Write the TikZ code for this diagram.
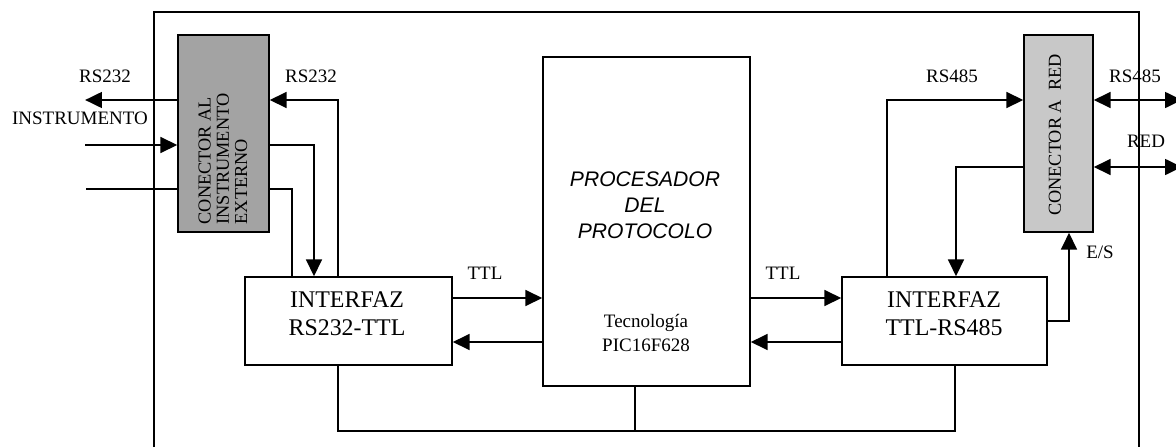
\documentclass[tikz,border=0pt]{standalone}
\usepackage{fontspec}
\setmainfont{Liberation Serif}
\newfontfamily\procfont{Liberation Sans}
\usetikzlibrary{arrows.meta}
\definecolor{grisOscuro}{RGB}{163,163,163}
\definecolor{grisClaro}{RGB}{200,200,200}

\begin{document}
\begin{tikzpicture}[x=0.025cm, y=-0.025cm,
  marco/.style={line width=1.4pt},
  caja/.style={draw, line width=0.9pt, inner sep=0pt},
  linea/.style={line width=0.9pt},
  flecha/.style={line width=2.1pt, -{Triangle[length=12pt,width=11pt]}},
  flechas/.style={line width=2.1pt, {Triangle[length=12pt,width=11pt]}-{Triangle[length=12pt,width=11pt]}},
  etiqueta/.style={font=\fontsize{13.5}{16.5}\selectfont, inner sep=0pt},
  rotulo/.style={font=\fontsize{13}{13}\selectfont, rotate=90, align=left, inner sep=0pt}]
\useasboundingbox (0,0) rectangle (1176,447);

% Marco exterior (abierto por debajo)
\draw[marco] (154,447) -- (154,12) -- (1139,12) -- (1139,447);

% Conector al instrumento externo (gris oscuro)
\node[caja, fill=grisOscuro, minimum width=2.275cm, minimum height=4.925cm] (conIn) at (223.5,133.5) {};
\node[rotulo] (txtIn) at (223,159) {CONECTOR AL\\INSTRUMENTO\\EXTERNO};

% Conector a red (gris claro)
\node[caja, fill=grisClaro, minimum width=1.725cm, minimum height=4.925cm] (conRed) at (1058.5,133.5) {};
\node[rotulo] (txtRed) at (1055,135) {CONECTOR A\ \ RED};

% Interfaces
\node[caja, minimum width=5.175cm, minimum height=2.2cm] (ifA) at (348.5,321) {};
\node[font=\fontsize{17}{20}\selectfont, align=center, inner sep=0pt] (txtA) at (347,314) {INTERFAZ\\RS232-TTL};
\node[caja, minimum width=5.125cm, minimum height=2.2cm] (ifB) at (944.5,321) {};
\node[font=\fontsize{17}{20}\selectfont, align=center, inner sep=0pt] (txtB) at (944,314) {INTERFAZ\\TTL-RS485};

% Procesador del protocolo
\node[caja, minimum width=5.175cm, minimum height=8.225cm] (proc) at (646.5,221.5) {};
\node[font=\procfont\itshape\fontsize{15}{18.5}\selectfont, align=center, inner sep=0pt] (txtProc) at (645,205) {PROCESADOR\\DEL\\PROTOCOLO};
\node[etiqueta, align=center, font=\fontsize{13.5}{16.5}\selectfont] (txtTec) at (646,333) {Tecnología\\PIC16F628};

% Etiquetas de las senales
\node[etiqueta] (lRS232a) at (105,76) {RS232};
\node[etiqueta] (lInstr) at (80,118) {INSTRUMENTO};
\node[etiqueta] (lRS232b) at (311,76) {RS232};
\node[etiqueta] (lTTLa) at (485,273) {TTL};
\node[etiqueta] (lTTLb) at (783,273) {TTL};
\node[etiqueta] (lRS485a) at (952,76) {RS485};
\node[etiqueta] (lRS485b) at (1135,76) {RS485};
\node[etiqueta] (lRed) at (1146,141) {RED};
\node[etiqueta] (lES) at (1100,252) {E/S};

% Filas y columnas de las lineas
\coordinate (filaA) at (0,100);
\coordinate (filaB) at (0,145);
\coordinate (filaC) at (0,189);
\coordinate (filaD) at (0,167);
\coordinate (filaES) at (0,321);
\coordinate (ttlA) at (0,298);
\coordinate (ttlB) at (0,342);
\coordinate (bus) at (0,431);
\coordinate (colA) at (338,0);
\coordinate (colB) at (314,0);
\coordinate (colC) at (292,0);
\coordinate (colP) at (635,0);
\coordinate (colE) at (955,0);
\coordinate (colR) at (887,0);
\coordinate (colS) at (956,0);
\coordinate (colT) at (1069,0);
\coordinate (extA) at (85,100);
\coordinate (extB) at (85,145);
\coordinate (extC) at (86,189);
\coordinate (redA) at (1182,100);
\coordinate (redB) at (1182,167);

% Lado del instrumento
\draw[flecha] (conIn.west |- filaA) -- (extA);
\draw[flecha] (extB) -- (conIn.west |- filaB);
\draw[linea] (extC) -- (conIn.west |- filaC);
\draw[flecha] (ifA.north -| colA) |- (conIn.east |- filaA);
\draw[flecha] (conIn.east |- filaB) -| (ifA.north -| colB);
\draw[linea] (conIn.east |- filaC) -| (ifA.north -| colC);

% Senales TTL
\draw[flecha] (ifA.east |- ttlA) -- (proc.west |- ttlA);
\draw[flecha] (proc.west |- ttlB) -- (ifA.east |- ttlB);
\draw[flecha] (proc.east |- ttlA) -- (ifB.west |- ttlA);
\draw[flecha] (ifB.west |- ttlB) -- (proc.east |- ttlB);

% Linea comun inferior
\draw[linea] (ifA.south -| colA) |- (bus -| colE) -- (ifB.south -| colE);
\draw[linea] (proc.south -| colP) -- (bus -| colP);

% Lado de la red
\draw[flecha] (ifB.north -| colR) |- (conRed.west |- filaA);
\draw[flecha] (conRed.west |- filaD) -| (ifB.north -| colS);
\draw[flecha] (ifB.east |- filaES) -| (conRed.south -| colT);
\draw[flechas] (conRed.east |- filaA) -- (redA);
\draw[flechas] (conRed.east |- filaD) -- (redB);
\end{tikzpicture}
\end{document}
